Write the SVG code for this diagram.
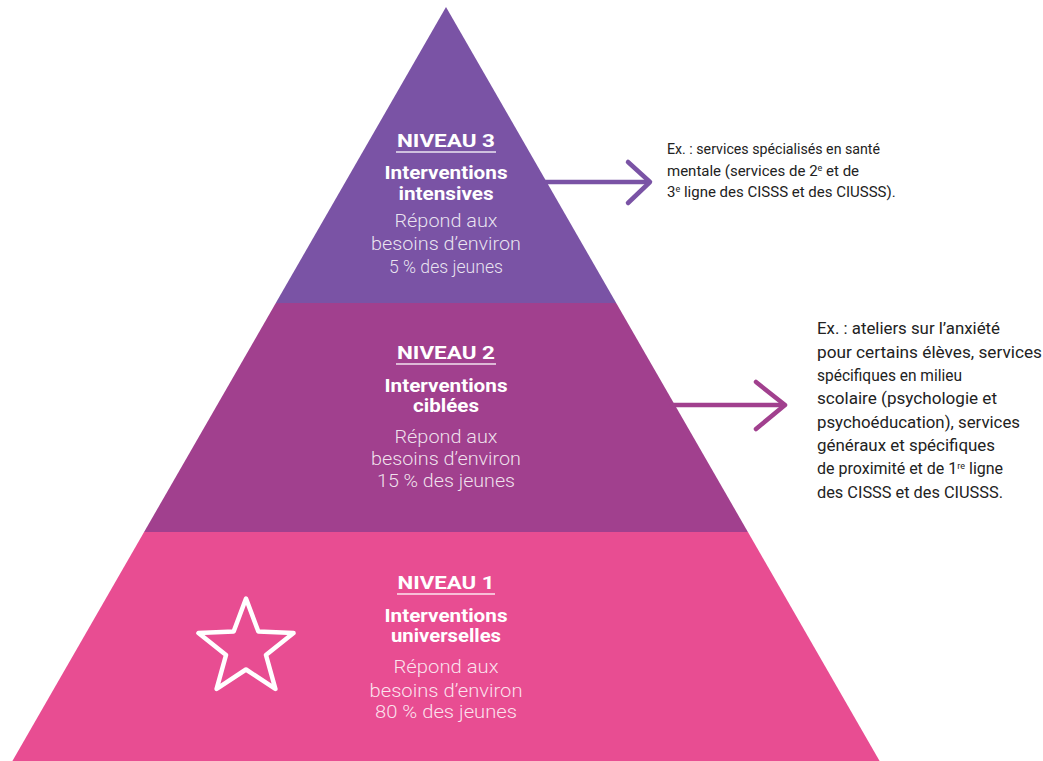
<svg xmlns="http://www.w3.org/2000/svg" width="1043" height="761" viewBox="0 0 1043 761">
<style>
.t{font-family:Roboto,"Liberation Sans",sans-serif;font-weight:700;font-size:18px;fill:#fff;text-anchor:middle}
.h{font-family:Roboto,"Liberation Sans",sans-serif;font-weight:700;font-size:18px;fill:#fff;text-anchor:middle}
.s{font-family:Roboto,"Liberation Sans",sans-serif;font-weight:300;font-size:17.5px;fill:#fff;fill-opacity:.85;text-anchor:middle}
.u{stroke:#fff;stroke-width:1.4;stroke-opacity:.85}
.r{font-family:Roboto,"Liberation Sans",sans-serif;font-weight:400;font-size:16px;fill:#222}
.r1{font-size:15px}
.sup{font-size:9px}
.arr{fill:none;stroke-width:4.5;stroke-linecap:round;stroke-linejoin:round}
</style>
<rect width="1043" height="761" fill="#fff"/>
<g id="niveau3">
<polygon points="446,7 616.2,303 275.8,303" fill="#7a53a5"/>
<text class="t" x="446" y="147" textLength="98" lengthAdjust="spacingAndGlyphs">NIVEAU 3</text>
<line class="u" x1="396" y1="152" x2="496" y2="152"/>
<text class="h" x="446" y="179" textLength="123" lengthAdjust="spacingAndGlyphs">Interventions</text>
<text class="h" x="446" y="200" textLength="95" lengthAdjust="spacingAndGlyphs">intensives</text>
<text class="s" x="446" y="227" textLength="103" lengthAdjust="spacingAndGlyphs">Répond aux</text>
<text class="s" x="446" y="250" textLength="150" lengthAdjust="spacingAndGlyphs">besoins d’environ</text>
<text class="s" x="446" y="273" textLength="114" lengthAdjust="spacingAndGlyphs">5 % des jeunes</text>
</g>
<g id="niveau2">
<polygon points="275.8,303 616.2,303 747.9,532 144.1,532" fill="#a1408e"/>
<text class="t" x="446" y="359" textLength="98" lengthAdjust="spacingAndGlyphs">NIVEAU 2</text>
<line class="u" x1="396" y1="364" x2="496" y2="364"/>
<text class="h" x="446" y="392" textLength="123" lengthAdjust="spacingAndGlyphs">Interventions</text>
<text class="h" x="446" y="412" textLength="66" lengthAdjust="spacingAndGlyphs">ciblées</text>
<text class="s" x="446" y="443" textLength="103" lengthAdjust="spacingAndGlyphs">Répond aux</text>
<text class="s" x="446" y="465" textLength="150" lengthAdjust="spacingAndGlyphs">besoins d’environ</text>
<text class="s" x="446" y="487" textLength="138" lengthAdjust="spacingAndGlyphs">15 % des jeunes</text>
</g>
<g id="niveau1">
<polygon points="144.1,532 747.9,532 879.6,761 12.4,761" fill="#e84d92"/>
<text class="t" x="446" y="589" textLength="97" lengthAdjust="spacingAndGlyphs">NIVEAU 1</text>
<line class="u" x1="397" y1="594" x2="495" y2="594"/>
<text class="h" x="446" y="622" textLength="123" lengthAdjust="spacingAndGlyphs">Interventions</text>
<text class="h" x="446" y="642" textLength="110" lengthAdjust="spacingAndGlyphs">universelles</text>
<text class="s" x="446" y="673" textLength="105" lengthAdjust="spacingAndGlyphs">Répond aux</text>
<text class="s" x="446" y="697" textLength="153" lengthAdjust="spacingAndGlyphs">besoins d’environ</text>
<text class="s" x="446" y="718" textLength="142" lengthAdjust="spacingAndGlyphs">80 % des jeunes</text>
</g>
<g id="star">
<polygon points="246,598.5 258.34,631.51 293.55,633.05 265.97,654.99 275.39,688.95 246,669.5 216.61,688.95 226.03,654.99 198.45,633.05 233.66,631.51" fill="none" stroke="#fff" stroke-width="4.5" stroke-linejoin="round"/>
</g>
<g id="connectors">
<g stroke="#7a53a5" class="arr">
<line x1="545" y1="182" x2="649" y2="182"/>
<polyline points="628,162 650,182 628,203"/>
</g>
<g stroke="#a1408e" class="arr">
<line x1="672" y1="405" x2="784" y2="405"/>
<polyline points="756,382 785,405 756,429"/>
</g>
</g>
<g id="exemple3">
<text class="r r1" x="667" y="154" textLength="213" lengthAdjust="spacingAndGlyphs">Ex. : services spécialisés en santé</text>
<text class="r r1" x="667" y="175.5">mentale (services de 2<tspan class="sup" baseline-shift="5">e</tspan> et de</text>
<text class="r r1" x="667" y="197">3<tspan class="sup" baseline-shift="5">e</tspan> ligne des CISSS et des CIUSSS).</text>
</g>
<g id="exemple2">
<text class="r" x="817" y="334" textLength="183" lengthAdjust="spacingAndGlyphs">Ex. : ateliers sur l’anxiété</text>
<text class="r" x="817" y="357.5" textLength="225" lengthAdjust="spacingAndGlyphs">pour certains élèves, services</text>
<text class="r" x="817" y="381" textLength="145" lengthAdjust="spacingAndGlyphs">spécifiques en milieu</text>
<text class="r" x="817" y="404" textLength="180" lengthAdjust="spacingAndGlyphs">scolaire (psychologie et</text>
<text class="r" x="817" y="428" textLength="203" lengthAdjust="spacingAndGlyphs">psychoéducation), services</text>
<text class="r" x="817" y="451" textLength="178" lengthAdjust="spacingAndGlyphs">généraux et spécifiques</text>
<text class="r" x="817" y="474">de proximité et de 1<tspan class="sup" baseline-shift="5">re</tspan> ligne</text>
<text class="r" x="817" y="498" textLength="186" lengthAdjust="spacingAndGlyphs">des CISSS et des CIUSSS.</text>
</g>
</svg>
